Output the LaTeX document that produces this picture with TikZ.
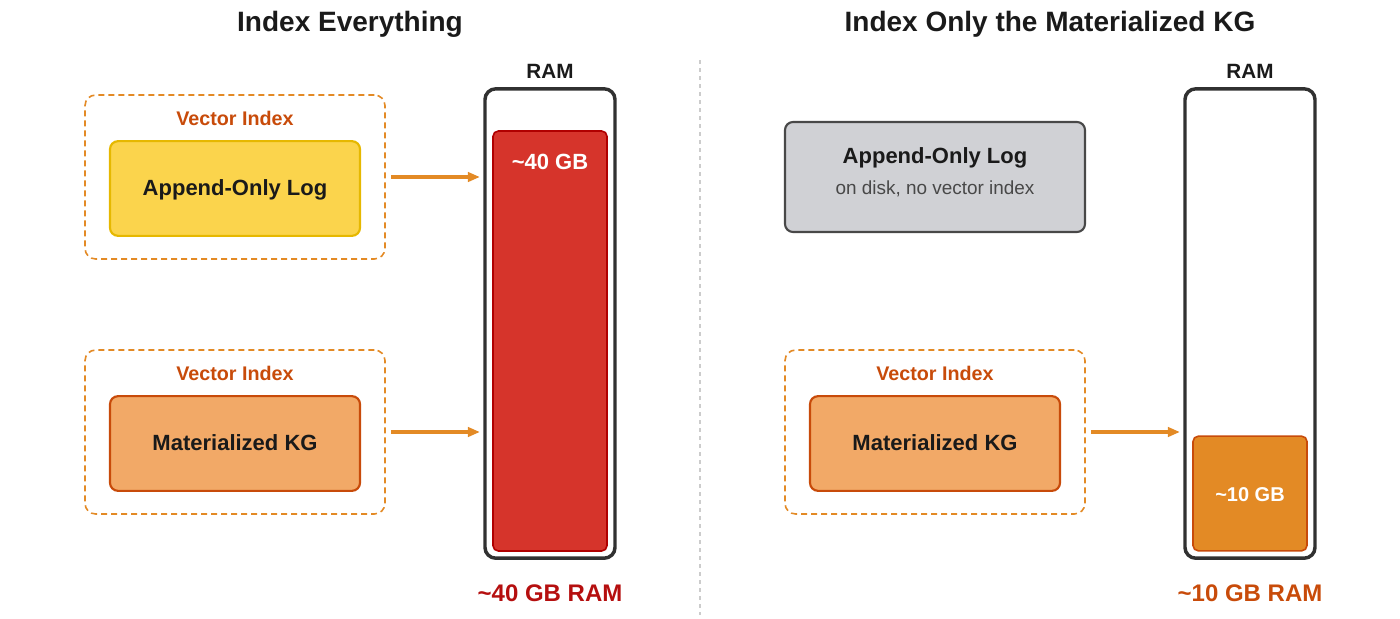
\documentclass[tikz,border=0pt]{standalone}
\usepackage{fontspec}
\setmainfont{Liberation Sans}
\usetikzlibrary{arrows.meta, positioning, calc}
\definecolor{inkdark}{RGB}{26, 26, 26}
\definecolor{idxorange}{RGB}{227, 138, 37}
\definecolor{idxtext}{RGB}{200, 75, 10}
\definecolor{logyellow}{RGB}{251, 212, 76}
\definecolor{logedge}{RGB}{230, 184, 0}
\definecolor{kgfill}{RGB}{242, 169, 103}
\definecolor{kgedge}{RGB}{200, 75, 10}
\definecolor{diskgray}{RGB}{208, 209, 213}
\definecolor{ramred}{RGB}{214, 52, 43}
\definecolor{ramredge}{RGB}{176, 0, 0}
\definecolor{ramlabelred}{RGB}{181, 15, 15}

\begin{document}
\begin{tikzpicture}[x=0.75pt, y=-0.75pt,
  title/.style={font=\bfseries\fontsize{21}{24}\selectfont, text=inkdark},
  idxbox/.style={draw=idxorange, dashed, dash pattern=on 4.5pt off 3pt, line width=1.2pt,
    rounded corners=8pt, minimum width=225pt, minimum height=123pt},
  idxlabel/.style={font=\bfseries\fontsize{14.8}{17}\selectfont, text=idxtext},
  store/.style={rounded corners=6pt, line width=1.6pt, minimum width=187.5pt, minimum height=71pt,
    font=\bfseries\fontsize{16.5}{19}\selectfont, text=inkdark, align=center,
    text height=12pt, text depth=2pt},
  ram/.style={draw=inkdark!90, line width=2.6pt, rounded corners=8pt,
    minimum width=97.5pt, minimum height=352pt},
  ramtag/.style={font=\bfseries\fontsize{15.5}{18}\selectfont, text=inkdark},
  arr/.style={-{Triangle[length=9pt, width=7pt]}, idxorange, line width=2.6pt},
  total/.style={font=\bfseries\fontsize{18}{21}\selectfont}]
  \useasboundingbox (0,0) rectangle (1400,618);

  % left: everything indexed
  \node[title] (titleL) at (350,24) {Index Everything};
  \node[idxbox] (idxL1) at (235,177) {};
  \node[idxlabel] (vecL1) at (235,118) {Vector Index};
  \node[store, fill=logyellow, draw=logedge] (logL) at (235,188.5) {Append-Only Log};
  \node[idxbox] (idxL2) at (235,432) {};
  \node[idxlabel] (vecL2) at (235,373) {Vector Index};
  \node[store, fill=kgfill, draw=kgedge] (kgL) at (235,443.5) {Materialized KG};

  \node[ramtag] (ramtagL) at (550,71) {RAM};
  \node[ram] (ramL) at (550,323.5) {};
  \node[fill=ramred, draw=ramredge, line width=1.2pt, rounded corners=4pt,
    minimum width=85.5pt, minimum height=315pt] (barL) at (550,341) {};
  \node[font=\bfseries\fontsize{16.5}{19}\selectfont, text=white] (gbL) at (550,162) {\char`~40 GB};
  \node[total, text=ramlabelred] (totalL) at (550,593) {\char`~40 GB RAM};

  \draw[arr, shorten <=4pt, shorten >=2.5pt] (idxL1.east) -- (ramL.west |- idxL1.east);
  \draw[arr, shorten <=4pt, shorten >=2.5pt] (idxL2.east) -- (ramL.west |- idxL2.east);

  \draw[gray!40, dashed, line width=0.9pt] (700,60) -- (700,615);

  % right: only the KG indexed
  \node[title] (titleR) at (1050,24) {Index Only the Materialized KG};
  \node[store, fill=diskgray, draw=inkdark!80, minimum width=225pt, minimum height=82.5pt] (logR) at (935,177) {};
  \node[font=\bfseries\fontsize{16.5}{19}\selectfont, text=inkdark] (logRname) at (935,158) {Append-Only Log};
  \node[font=\fontsize{14.2}{17}\selectfont, text=inkdark!80] (logRnote) at (935,189) {on disk, no vector index};
  \node[idxbox] (idxR) at (935,432) {};
  \node[idxlabel] (vecR) at (935,373) {Vector Index};
  \node[store, fill=kgfill, draw=kgedge] (kgR) at (935,443.5) {Materialized KG};

  \node[ramtag] (ramtagR) at (1250,71) {RAM};
  \node[ram] (ramR) at (1250,323.5) {};
  \node[fill=idxorange, draw=kgedge, line width=1.2pt, rounded corners=4pt,
    minimum width=85.5pt, minimum height=86pt] (barR) at (1250,493.5) {};
  \node[font=\bfseries\fontsize{15}{18}\selectfont, text=white] (gbR) at (1250,495) {\char`~10 GB};
  \node[total, text=idxtext] (totalR) at (1250,593) {\char`~10 GB RAM};

  \draw[arr, shorten <=4pt, shorten >=2.5pt] (idxR.east) -- (ramR.west |- idxR.east);
\end{tikzpicture}
\end{document}
